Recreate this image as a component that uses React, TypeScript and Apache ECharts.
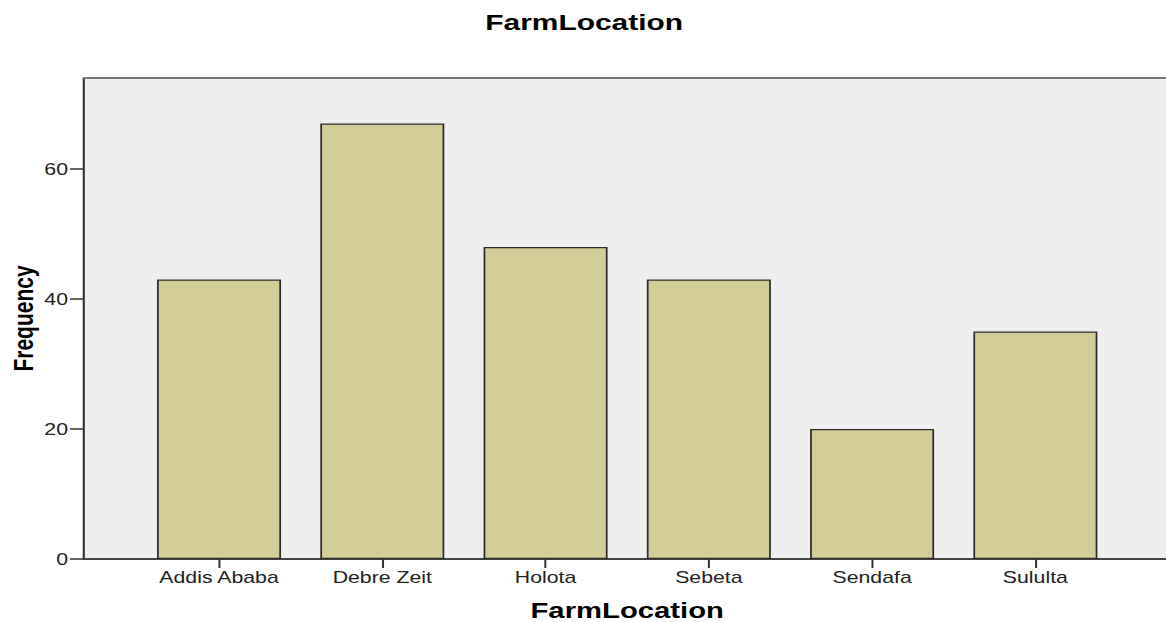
import React, { useEffect, useRef } from "react";
import * as echarts from "echarts";

const categories = ["Addis Ababa", "Debre Zeit", "Holota", "Sebeta", "Sendafa", "Sululta"];
const frequencies = [43, 67, 48, 43, 20, 35];
const yMin = 0;
const yMax = 74;
const yInterval = 20;
const yTickValues = [0, 20, 40, 60];
const chartTitle = "FarmLocation";
const xName = "FarmLocation";
const yName = "Frequency";

const W = 1166;
const H = 622;
const S = 1.33; // horizontal stretch of the reference picture
const IW = W / S;

const FONT = "Liberation Sans, Arial, sans-serif";

export default function App() {
  const ref = useRef<HTMLDivElement>(null);
  useEffect(() => {
    if (!ref.current) return;
    const chart = echarts.init(ref.current, undefined, { renderer: "svg" });
    const gridTop = 78;
    const gridBottom = H - 559;
    chart.setOption({
      animation: false,
      backgroundColor: "#ffffff",
      title: {
        text: chartTitle,
        left: 577.5 / S,
        top: 6,
        textAlign: "center",
        textStyle: { fontFamily: FONT, fontWeight: "bold", fontSize: 22.5, color: "#000" },
      },
      grid: [
        {
          left: 84 / S,
          right: 0,
          top: gridTop,
          bottom: gridBottom,
          show: true,
          backgroundColor: "#efefef",
          borderWidth: 0,
          containLabel: false,
          outerBoundsMode: "none",
        },
        {
          left: 137.4 / S,
          right: (W - 1116.6) / S,
          top: gridTop,
          bottom: gridBottom,
          containLabel: false,
          outerBoundsMode: "none",
        },
      ],
      xAxis: [
        {
          type: "category",
          gridIndex: 0,
          position: "bottom",
          data: categories,
          axisLine: { show: true, lineStyle: { color: "#444", width: 2 } },
          axisTick: { show: false },
          axisLabel: { show: false },
          splitLine: { show: false },
        },
        {
          type: "category",
          gridIndex: 0,
          position: "top",
          data: categories,
          axisLine: { show: true, lineStyle: { color: "#777", width: 2 } },
          axisTick: { show: false },
          axisLabel: { show: false },
          splitLine: { show: false },
        },
        {
          type: "category",
          gridIndex: 1,
          position: "bottom",
          data: categories,
          axisLine: { show: false },
          axisTick: { show: true, alignWithLabel: true, length: 9, lineStyle: { color: "#333", width: 1.5 } },
          axisLabel: { show: true, margin: 10, fontFamily: FONT, fontSize: 16, color: "#222" },
          splitLine: { show: false },
          name: xName,
          nameLocation: "middle",
          nameGap: 40,
          nameTextStyle: { fontFamily: FONT, fontWeight: "bold", fontSize: 22, color: "#000" },
        },
      ],
      yAxis: [
        {
          type: "value",
          gridIndex: 0,
          min: yMin,
          max: yMax,
          interval: yInterval,
          axisLine: { show: true, lineStyle: { color: "#333", width: 1.6 } },
          axisTick: { show: true, length: 10.5, customValues: yTickValues, lineStyle: { color: "#333", width: 1.5 } },
          axisLabel: {
            show: true,
            margin: 12,
            customValues: yTickValues,
            fontFamily: FONT,
            fontSize: 16,
            color: "#222",
          },
          splitLine: { show: false },
          name: yName,
          nameLocation: "middle",
          nameRotate: 90,
          nameGap: 35,
          nameMoveOverlap: false,
          nameTextStyle: { fontFamily: FONT, fontWeight: "bold", fontSize: 21, color: "#000" },
        },
        {
          type: "value",
          gridIndex: 1,
          min: yMin,
          max: yMax,
          interval: yInterval,
          show: false,
          splitLine: { show: false },
        },
      ],
      series: [
        {
          type: "bar",
          xAxisIndex: 2,
          yAxisIndex: 1,
          data: frequencies,
          barWidth: 124 / S,
          itemStyle: { color: "#d3ce98", borderColor: "#2b2b2b", borderWidth: 1.3 },
        },
      ],
    });
    return () => chart.dispose();
  }, []);

  return (
    <div
      style={{
        position: "fixed",
        left: 0,
        top: 0,
        width: W,
        height: H,
        overflow: "hidden",
        background: "#fff",
      }}
    >
      <div
        ref={ref}
        style={{ width: IW, height: H, transform: `scaleX(${S})`, transformOrigin: "0 0" }}
      />
    </div>
  );
}
